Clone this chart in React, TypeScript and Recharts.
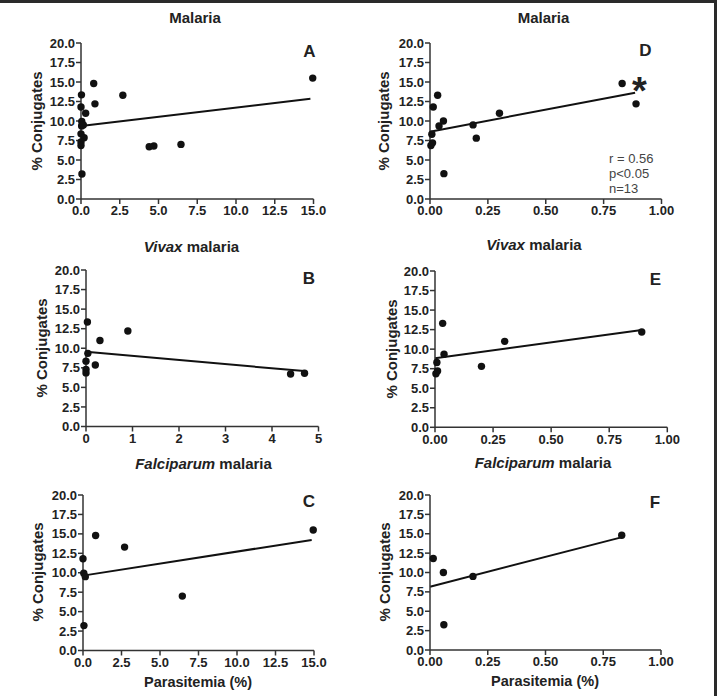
import React from 'react';
import { ScatterChart, Scatter, XAxis, YAxis, ReferenceLine } from 'recharts';

// Y axis: % conjugates, shared by all six panels
const yTicks = [0, 2.5, 5, 7.5, 10, 12.5, 15, 17.5, 20];
// X axis tick sets
const xTicksFifteen = [0, 2.5, 5, 7.5, 10, 12.5, 15];
const xTicksFive = [0, 1, 2, 3, 4, 5];
const xTicksUnit = [0, 0.25, 0.5, 0.75, 1];

// Parasitemia measured on the 0–15 scale
const vivaxPoints = [
  { x: 0.03, y: 13.35 }, { x: 0.3, y: 11.0 }, { x: 0.9, y: 12.2 }, { x: 0.04, y: 9.35 },
  { x: 0.0, y: 8.35 }, { x: 0.2, y: 7.85 }, { x: 0.0, y: 7.3 }, { x: 0.0, y: 6.85 },
  { x: 4.4, y: 6.7 }, { x: 4.7, y: 6.8 },
];
const falciparumPoints = [
  { x: 0.0, y: 11.8 }, { x: 0.05, y: 9.95 }, { x: 0.15, y: 9.5 }, { x: 0.82, y: 14.8 },
  { x: 2.7, y: 13.3 }, { x: 6.45, y: 7.0 }, { x: 14.95, y: 15.5 }, { x: 0.06, y: 3.2 },
];
const allPoints = [...vivaxPoints, ...falciparumPoints];

// Parasitemia measured on the 0–1 scale
const vivaxUnitPoints = [
  { x: 0.004, y: 6.85 }, { x: 0.011, y: 7.2 }, { x: 0.008, y: 8.3 }, { x: 0.033, y: 13.3 },
  { x: 0.039, y: 9.35 }, { x: 0.2, y: 7.8 }, { x: 0.3, y: 11.0 }, { x: 0.89, y: 12.2 },
];
const falciparumUnitPoints = [
  { x: 0.014, y: 11.8 }, { x: 0.058, y: 10.0 }, { x: 0.186, y: 9.5 }, { x: 0.83, y: 14.8 },
  { x: 0.06, y: 3.25 },
];
const allUnitPoints = [...vivaxUnitPoints, ...falciparumUnitPoints];

// Linear fits (end points)
const fitA = [{ x: 0.0, y: 9.35 }, { x: 14.8, y: 12.85 }];
const fitB = [{ x: 0.0, y: 9.55 }, { x: 4.69, y: 7.08 }];
const fitC = [{ x: 0.0, y: 9.63 }, { x: 14.85, y: 14.22 }];
const fitD = [{ x: 0.0, y: 8.63 }, { x: 0.886, y: 13.63 }];
const fitE = [{ x: 0.0, y: 8.83 }, { x: 0.89, y: 12.45 }];
const fitF = [{ x: 0.0, y: 8.17 }, { x: 0.828, y: 14.53 }];

const FONT = '"Liberation Sans", Arial, Helvetica, sans-serif';
const INK = '#222';

type Rect = { left: number; top: number; width: number; height: number };
type PanelCfg = {
  id: string;
  data: { x: number; y: number }[];
  fit: { x: number; y: number }[];
  xMax: number;
  xTicks: number[];
  xDigits: number;
  plot: Rect;
};

const panels: PanelCfg[] = [
  { id: 'A', data: allPoints, fit: fitA, xMax: 15, xTicks: xTicksFifteen, xDigits: 1, plot: { left: 81, top: 43, width: 232.5, height: 156 } },
  { id: 'B', data: vivaxPoints, fit: fitB, xMax: 5, xTicks: xTicksFive, xDigits: 0, plot: { left: 86, top: 270, width: 232.5, height: 156.5 } },
  { id: 'C', data: falciparumPoints, fit: fitC, xMax: 15, xTicks: xTicksFifteen, xDigits: 1, plot: { left: 82.5, top: 494.5, width: 231, height: 155.5 } },
  { id: 'D', data: allUnitPoints, fit: fitD, xMax: 1, xTicks: xTicksUnit, xDigits: 2, plot: { left: 430, top: 43, width: 231.5, height: 156 } },
  { id: 'E', data: vivaxUnitPoints, fit: fitE, xMax: 1, xTicks: xTicksUnit, xDigits: 2, plot: { left: 435, top: 270.5, width: 232.3, height: 156.3 } },
  { id: 'F', data: falciparumUnitPoints, fit: fitF, xMax: 1, xTicks: xTicksUnit, xDigits: 2, plot: { left: 430, top: 494.5, width: 231, height: 155 } },
];

const tickStyle = { fontSize: 13, fontWeight: 700, fill: INK, fontFamily: FONT };
const axisStroke = { stroke: '#333', strokeWidth: 1.5 };

const Dot = (props: any) => <circle cx={props.cx} cy={props.cy} r={3.7} fill="#111" />;

function Panel({ cfg }: { cfg: PanelCfg }) {
  const padL = 60;
  const padT = 12;
  const padR = 22;
  const padB = 30;
  const w = cfg.plot.width + padL + padR;
  const h = cfg.plot.height + padT + padB;
  return (
    <div style={{ position: 'absolute', left: cfg.plot.left - padL, top: cfg.plot.top - padT }}>
      <ScatterChart width={w} height={h} margin={{ top: padT, right: padR, bottom: 0, left: 0 }}>
        <XAxis
          type="number"
          dataKey="x"
          domain={[0, cfg.xMax]}
          ticks={cfg.xTicks}
          interval={0}
          height={padB}
          tick={tickStyle}
          tickSize={5}
          tickMargin={2}
          axisLine={axisStroke}
          tickLine={axisStroke}
          tickFormatter={(v: number) => v.toFixed(cfg.xDigits)}
        />
        <YAxis
          type="number"
          dataKey="y"
          domain={[0, 20]}
          ticks={yTicks}
          interval={0}
          width={padL}
          tick={tickStyle}
          tickSize={5}
          tickMargin={1}
          axisLine={axisStroke}
          tickLine={axisStroke}
          tickFormatter={(v: number) => v.toFixed(1)}
        />
        <ReferenceLine segment={cfg.fit} stroke="#111" strokeWidth={2} ifOverflow="visible" />
        <Scatter data={cfg.data} shape={Dot} isAnimationActive={false} />
      </ScatterChart>
    </div>
  );
}

function Centered({ x, y, size, weight = 700, children, rotate = false, color = INK }: any) {
  return (
    <div
      style={{
        position: 'absolute',
        left: x,
        top: y,
        transform: `translate(-50%, -50%)${rotate ? ' rotate(-90deg)' : ''}`,
        fontSize: size,
        fontWeight: weight,
        lineHeight: 1,
        whiteSpace: 'nowrap',
        color,
      }}
    >
      {children}
    </div>
  );
}

const titleMalaria = 'Malaria';
const letterPos: Record<string, [number, number]> = {
  A: [309.5, 50.5], B: [309, 278], C: [309, 500.5],
  D: [645.5, 50], E: [655.5, 278.5], F: [655, 501.5],
};
const yLabelPos: [number, number][] = [[35.5, 121], [40.5, 348], [36.5, 572], [382.5, 121], [390.5, 348.5], [383.5, 572]];
const statsLines = ['r = 0.56', 'p<0.05', 'n=13'];

export default function App() {
  return (
    <div
      style={{
        position: 'absolute',
        left: 0,
        top: 0,
        width: 720,
        height: 696,
        background: '#fff',
        fontFamily: FONT,
        overflow: 'hidden',
      }}
    >
      {/* frame edges */}
      <div style={{ position: 'absolute', left: 0, top: 0, width: 717, height: 3, background: '#2a2a2a' }} />
      <div style={{ position: 'absolute', left: 713.5, top: 0, width: 3.5, height: 696, background: '#2a2a2a' }} />

      {panels.map((p) => (
        <Panel key={p.id} cfg={p} />
      ))}

      {/* column titles */}
      <Centered x={195} y={17} size={15}>{titleMalaria}</Centered>
      <Centered x={543.5} y={17} size={15}>{titleMalaria}</Centered>
      <Centered x={191.5} y={245.5} size={15}><i>Vivax</i> malaria</Centered>
      <Centered x={534} y={244} size={15}><i>Vivax</i> malaria</Centered>
      <Centered x={203.5} y={463} size={15}><i>Falciparum</i> malaria</Centered>
      <Centered x={543} y={462} size={15}><i>Falciparum</i> malaria</Centered>

      {/* panel letters */}
      {Object.entries(letterPos).map(([k, [x, y]]) => (
        <Centered key={k} x={x} y={y} size={17}>{k}</Centered>
      ))}

      {/* y axis titles */}
      {yLabelPos.map(([x, y], i) => (
        <Centered key={i} x={x} y={y} size={15} rotate>% Conjugates</Centered>
      ))}

      {/* x axis titles */}
      <Centered x={198} y={682} size={14.5}>Parasitemia (%)</Centered>
      <Centered x={545} y={681} size={14.5}>Parasitemia (%)</Centered>

      {/* significance marker and statistics for panel D */}
      <Centered x={639.5} y={90.5} size={38}>*</Centered>
      {statsLines.map((s, i) => (
        <div
          key={s}
          style={{
            position: 'absolute',
            left: 609,
            top: 158 + i * 14.8,
            transform: 'translateY(-50%)',
            fontSize: 13,
            lineHeight: 1,
            color: '#444',
            whiteSpace: 'nowrap',
          }}
        >
          {s}
        </div>
      ))}
    </div>
  );
}
